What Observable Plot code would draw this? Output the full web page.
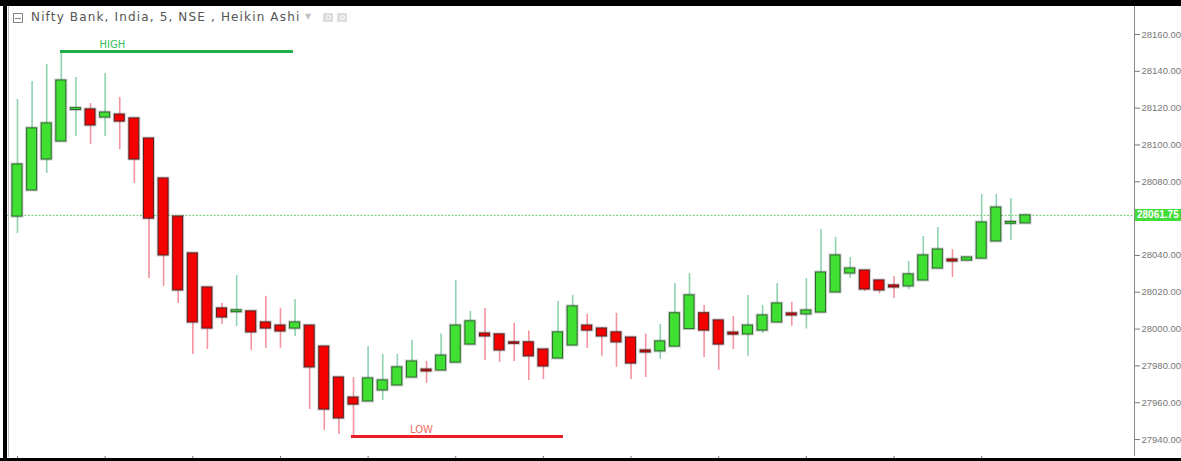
<!DOCTYPE html>
<html><head><meta charset="utf-8">
<script src="https://cdn.jsdelivr.net/npm/d3@7"></script>
<script src="https://cdn.jsdelivr.net/npm/@observablehq/plot@0.6"></script>
<style>
html,body{margin:0;padding:0;background:#fff;}
#wrap{position:relative;width:1181px;height:461px;overflow:hidden;background:#fff;}
#wrap svg{position:absolute;left:0;top:0;}
.blk{position:absolute;background:#000;}
#title{position:absolute;left:31px;top:10px;font:12px "DejaVu Sans",sans-serif;letter-spacing:1.15px;color:#555;white-space:nowrap;}
#ico{position:absolute;left:13px;top:13px;width:8px;height:8px;border:1px solid #888;}
#ico:after{content:"";position:absolute;left:1px;right:1px;top:3.5px;height:1px;background:#888;}
.ib{position:absolute;top:13px;width:10px;height:9px;background:#ddd;}
.ib:after{content:"";position:absolute;left:2.5px;top:2px;width:3px;height:3px;border:1px solid #fff;border-radius:50%;}
#arrow{position:absolute;left:305px;top:12px;font:8px "DejaVu Sans",sans-serif;color:#c4c4c4;}
#price{position:absolute;left:1135px;width:46px;height:12px;background:#44dd3c;color:#fff;font:bold 10px "Liberation Sans",Arial,sans-serif;line-height:12px;padding-left:2px;box-sizing:border-box;white-space:nowrap;overflow:hidden;}
#axisline{position:absolute;width:1px;background:#888;}
#leftline{position:absolute;left:8px;top:6px;width:1px;height:451px;background:#bbb;}
</style></head><body><div id="wrap"></div>
<script>
// Heikin Ashi candles (5-minute), Nifty Bank
const opens  = [28061.1,28075.3,28092.1,28101.9,28119.0,28119.3,28114.9,28116.5,28114.4,28103.5,
                28081.8,28061.1,28041.1,28022.6,28011.2,28009.2,28009.6,28003.6,28001.9,28000.3,
                28001.9,27990.5,27973.7,27962.8,27960.7,27966.7,27969.4,27973.7,27978.0,27977.5,
                27981.8,27991.6,27997.6,27997.1,27992.8,27992.8,27988.9,27984.0,27991.1,28001.9,
                28000.3,27998.2,27995.4,27988.4,27987.9,27990.5,28000.0,28008.6,28004.7,27998.1,
                27997.1,27999.2,28003.6,28008.5,28008.0,28009.0,28019.9,28030.2,28031.8,28026.4,
                28023.7,28023.2,28026.4,28032.9,28037.8,28037.2,28038.3,28047.6,28057.2,28057.4];
const highs  = [28124.7,28134.5,28143.7,28150.2,28136.6,28122.5,28138.8,28125.8,28114.4,28103.5,
                28081.8,28061.1,28041.1,28022.6,28013.9,28029.1,28009.6,28017.8,28011.2,28016.1,
                28001.9,27990.5,27973.7,27973.7,27990.5,27986.2,27986.2,27993.8,27982.4,27997.3,
                28026.4,28009.6,28011.2,27997.1,28003.1,27998.9,27988.9,28015.0,28018.3,28008.0,
                28000.8,28008.6,27995.4,27997.3,28002.5,28024.8,28030.2,28012.8,28004.7,28006.9,
                28018.3,28012.8,28024.8,28014.5,28027.5,28054.1,28049.8,28038.9,28031.8,28026.4,
                28028.6,28036.7,28050.3,28055.2,28043.2,28038.9,28073.1,28073.1,28070.9,28061.75];
const lows   = [28051.9,28075.3,28084.5,28101.9,28104.6,28100.3,28104.6,28097.5,28079.1,28027.5,
                28023.2,28013.9,27986.2,27988.9,28002.5,28001.5,27988.4,27989.5,27989.5,27996.0,
                27956.3,27945.0,27942.7,27941.0,27960.7,27961.3,27969.4,27973.7,27970.5,27977.5,
                27981.8,27991.6,27983.0,27981.8,27982.4,27972.1,27972.6,27984.0,27991.1,27989.5,
                27985.2,27979.2,27972.6,27973.7,27983.6,27990.5,28000.0,27984.6,27977.5,27988.9,
                27985.2,27997.6,28003.6,28001.5,28000.0,28009.0,28019.9,28027.5,28020.4,28019.3,
                28016.6,28021.5,28026.4,28032.9,28028.0,28037.2,28038.3,28047.6,28048.1,28057.4];
const closes = [28089.4,28109.0,28111.7,28135.0,28120.0,28110.6,28117.6,28112.7,28092.1,28060.0,
                28040.0,28021.0,28003.6,28000.3,28006.3,28010.2,27998.2,28000.3,27998.7,28003.6,
                27979.2,27956.3,27951.5,27959.0,27973.2,27972.1,27979.2,27982.4,27977.0,27985.6,
                28001.9,28004.2,27996.0,27988.4,27992.0,27985.2,27979.7,27998.2,28012.3,27999.2,
                27996.0,27992.8,27981.3,27987.3,27993.3,28008.6,28018.3,27999.2,27991.6,27997.0,
                28001.9,28007.4,28013.9,28007.4,28010.1,28030.7,28040.0,28032.9,28021.5,28021.0,
                28022.6,28029.7,28040.0,28043.2,28036.7,28038.9,28057.9,28066.0,28058.2,28061.75];
const yTicks = [27940,27960,27980,28000,28020,28040,28080,28100,28120,28140,28160];
const xTicks = [0,6,12,18,24,30,36,42,48,54,60,66];
const lastPrice = 28061.75;
const titleText = "Nifty Bank, India, 5, NSE , Heikin Ashi";
// HIGH / LOW annotations (bar index span, price level, label position)
const annLabels = ["HIGH","LOW"];
const annY      = [28150.8, 27941.7];
const annX1     = [2.94, 22.86];
const annX2     = [18.89, 37.37];
const annLabelX = [6.5, 27.65];
const annLine   = ["#1fb04a", "#ee1c25"];
const annText   = ["#35c25a", "#f2695f"];

const candles = opens.map((o,i)=>({i, o, h:highs[i], l:lows[i], c:closes[i], up: closes[i] >= o}));
const ann = annLabels.map((label,k)=>({label, y:annY[k], x1:annX1[k], x2:annX2[k], lx:annLabelX[k], line:annLine[k], text:annText[k]}));

const W = 1181, H = 461, mL = 7, mR = 47, mT = 6, mB = 5;
const hw = 0.34;
const chart = Plot.plot({
  width: W, height: H,
  marginLeft: mL, marginRight: mR, marginTop: mT, marginBottom: mB,
  style: {background: "transparent", overflow: "visible"},
  x: {type: "linear", domain: [-0.684, 76.46]},
  y: {domain: [27930.8, 28175.2]},
  marks: [
    Plot.ruleY([lastPrice], {stroke: "#6ccf6c", strokeDasharray: "2,1.5", strokeWidth: 1}),
    Plot.ruleX(candles, {x: "i", y1: "l", y2: "h", stroke: d => d.up ? "#8fd3b0" : "#f5939e", strokeWidth: 1.6}),
    Plot.rect(candles, {x1: d => d.i - hw, x2: d => d.i + hw, y1: "o", y2: "c", fill: "none", stroke: "rgba(110,110,110,0.35)", strokeWidth: 3}),
    Plot.rect(candles, {x1: d => d.i - hw, x2: d => d.i + hw, y1: "o", y2: "c", fill: d => d.up ? "#40e032" : "#f50000", stroke: d => d.up ? "#2b6b2b" : "#5c1c1c", strokeWidth: 1}),
    Plot.ruleY(ann, {y: "y", x1: "x1", x2: "x2", stroke: "line", strokeWidth: 3}),
    Plot.text(ann, {x: "lx", y: "y", text: "label", fill: "text", lineAnchor: "bottom", dy: -3, fontSize: 10, fontFamily: "DejaVu Sans, sans-serif"}),
    Plot.axisY({ticks: yTicks, anchor: "right", tickSize: 5, tickPadding: 2, tickFormat: d => d.toFixed(2), fontSize: 9.5, color: "#777", fontFamily: "Liberation Sans, Arial, sans-serif"}),
    Plot.axisX({ticks: xTicks, anchor: "bottom", tickSize: 2, tickFormat: () => "", color: "#777"})
  ]
});
const wrap = document.getElementById("wrap");
wrap.appendChild(chart);
const ys = chart.scale("y");
const add = (cls, id, styles, text) => { const d = document.createElement("div"); if (cls) d.className = cls; if (id) d.id = id; Object.assign(d.style, styles || {}); if (text) d.textContent = text; wrap.appendChild(d); return d; };
add(null, "leftline");
add(null, "axisline", {left: (W - mR) + "px", top: mT + "px", height: (H - mT - mB) + "px"});
add(null, "price", {top: (ys.apply(lastPrice) - 6) + "px"}, lastPrice.toFixed(2));
add(null, "ico");
add(null, "title", {}, titleText);
add(null, "arrow", {}, "▼");
add("ib", null, {left: "323px"});
add("ib", null, {left: "337px"});
add("blk", null, {left: "0px", top: "0px", width: W + "px", height: "6px"});
add("blk", null, {left: "3px", top: "0px", width: "4px", height: H + "px"});
add("blk", null, {left: "0px", top: (H - 3) + "px", width: W + "px", height: "3px"});
</script></body></html>
